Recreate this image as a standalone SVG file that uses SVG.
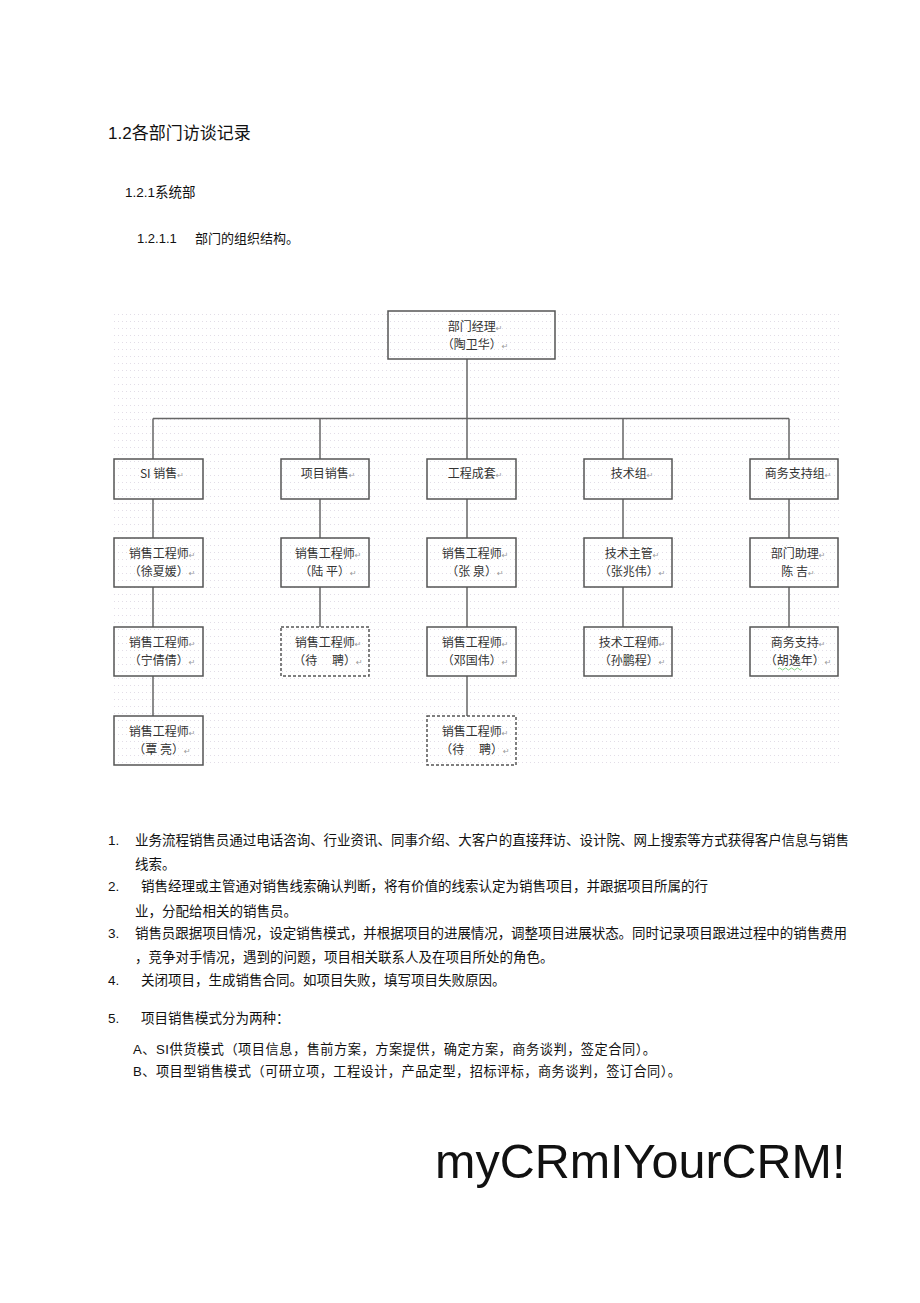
<svg xmlns="http://www.w3.org/2000/svg" width="920" height="1303" viewBox="0 0 920 1303">
<style>
.t{font-family:'Liberation Sans','Noto Sans CJK SC',sans-serif;fill:#111}
.p{font-size:13.5px}
.box{fill:none;stroke:#555;stroke-width:1.5}
.dash{stroke-dasharray:3 2}
.bt{font-family:'Noto Sans CJK SC','Liberation Sans',sans-serif;font-size:12px;fill:#333;text-anchor:middle}
.rt{font-family:'DejaVu Sans',sans-serif;font-size:8px;fill:#999}
.conn line{stroke:#666;stroke-width:1.5}
</style>
<defs>
<pattern id="dots" x="114" y="314" width="4" height="7" patternUnits="userSpaceOnUse">
<rect x="0" y="0" width="1" height="1" fill="#d6cfdc"/>
</pattern>
</defs>
<rect width="920" height="1303" fill="#fff"/>
<rect x="114" y="314" width="726" height="454" fill="url(#dots)" opacity="0.7"/>

<text class="t" x="108" y="139" font-size="17">1.2各部门访谈记录</text>
<text class="t" x="125" y="197" font-size="13.5">1.2.1系统部</text>
<text class="t" x="137" y="243" font-size="13"><tspan>1.2.1.1</tspan><tspan x="195">部门的组织结构。</tspan></text>

<g class="conn">
<line x1="467" y1="359" x2="467" y2="459"/>
<line x1="153" y1="418.5" x2="789" y2="418.5"/>
<line x1="153" y1="418.5" x2="153" y2="459"/>
<line x1="320" y1="418.5" x2="320" y2="459"/>
<line x1="623" y1="418.5" x2="623" y2="459"/>
<line x1="789" y1="418.5" x2="789" y2="459"/>
<line x1="153" y1="499" x2="153" y2="538"/>
<line x1="153" y1="587" x2="153" y2="627"/>
<line x1="153" y1="676" x2="153" y2="716"/>
<line x1="320" y1="499" x2="320" y2="538"/>
<line x1="320" y1="587" x2="320" y2="627"/>
<line x1="467" y1="499" x2="467" y2="538"/>
<line x1="467" y1="587" x2="467" y2="627"/>
<line x1="467" y1="676" x2="467" y2="716"/>
<line x1="623" y1="499" x2="623" y2="538"/>
<line x1="623" y1="587" x2="623" y2="627"/>
<line x1="789" y1="499" x2="789" y2="538"/>
<line x1="789" y1="587" x2="789" y2="627"/>
</g>

<g id="manager"><rect class="box" x="388" y="311" width="167" height="48"/>
<text class="bt" x="475" y="331">部门经理<tspan class="rt">↵</tspan></text>
<text class="bt" x="475" y="349">（陶卫华）<tspan class="rt">↵</tspan></text></g>

<g id="si-sales"><rect class="box" x="114" y="459" width="89" height="40"/>
<text class="bt" x="162" y="478">SI 销售<tspan class="rt">↵</tspan></text></g>
<g id="proj-sales"><rect class="box" x="281" y="459" width="88" height="40"/>
<text class="bt" x="328" y="478">项目销售<tspan class="rt">↵</tspan></text></g>
<g id="eng"><rect class="box" x="427" y="459" width="89" height="40"/>
<text class="bt" x="475" y="478">工程成套<tspan class="rt">↵</tspan></text></g>
<g id="tech"><rect class="box" x="584" y="459" width="88" height="40"/>
<text class="bt" x="632" y="478">技术组<tspan class="rt">↵</tspan></text></g>
<g id="biz"><rect class="box" x="750" y="459" width="88" height="40"/>
<text class="bt" x="798" y="478">商务支持组<tspan class="rt">↵</tspan></text></g>

<g id="c1-2"><rect class="box" x="114" y="538" width="89" height="49"/>
<text class="bt" x="162" y="558">销售工程师<tspan class="rt">↵</tspan></text>
<text class="bt" x="162" y="576">（徐夏媛）<tspan class="rt">↵</tspan></text></g>
<g id="c1-3"><rect class="box" x="114" y="627" width="89" height="49"/>
<text class="bt" x="162" y="647">销售工程师<tspan class="rt">↵</tspan></text>
<text class="bt" x="162" y="665">（宁倩倩）<tspan class="rt">↵</tspan></text></g>
<g id="c1-4"><rect class="box" x="114" y="716" width="89" height="49"/>
<text class="bt" x="162" y="736">销售工程师<tspan class="rt">↵</tspan></text>
<text class="bt" x="162" y="754" xml:space="preserve">（覃 亮）<tspan class="rt">↵</tspan></text></g>

<g id="c2-2"><rect class="box" x="281" y="538" width="88" height="49"/>
<text class="bt" x="328" y="558">销售工程师<tspan class="rt">↵</tspan></text>
<text class="bt" x="328" y="576" xml:space="preserve">（陆 平）<tspan class="rt">↵</tspan></text></g>
<g id="c2-3"><rect class="box dash" x="281" y="627" width="88" height="49"/>
<text class="bt" x="328" y="647">销售工程师<tspan class="rt">↵</tspan></text>
<text class="bt" x="328" y="665" xml:space="preserve">（待　 聘）<tspan class="rt">↵</tspan></text></g>

<g id="c3-2"><rect class="box" x="427" y="538" width="89" height="49"/>
<text class="bt" x="475" y="558">销售工程师<tspan class="rt">↵</tspan></text>
<text class="bt" x="475" y="576" xml:space="preserve">（张 泉）<tspan class="rt">↵</tspan></text></g>
<g id="c3-3"><rect class="box" x="427" y="627" width="89" height="49"/>
<text class="bt" x="475" y="647">销售工程师<tspan class="rt">↵</tspan></text>
<text class="bt" x="475" y="665">（邓国伟）<tspan class="rt">↵</tspan></text></g>
<g id="c3-4"><rect class="box dash" x="427" y="716" width="89" height="49"/>
<text class="bt" x="475" y="736">销售工程师<tspan class="rt">↵</tspan></text>
<text class="bt" x="475" y="754" xml:space="preserve">（待　 聘）<tspan class="rt">↵</tspan></text></g>

<g id="c4-2"><rect class="box" x="584" y="538" width="88" height="49"/>
<text class="bt" x="632" y="558">技术主管<tspan class="rt">↵</tspan></text>
<text class="bt" x="632" y="576">（张兆伟）<tspan class="rt">↵</tspan></text></g>
<g id="c4-3"><rect class="box" x="584" y="627" width="88" height="49"/>
<text class="bt" x="632" y="647">技术工程师<tspan class="rt">↵</tspan></text>
<text class="bt" x="632" y="665">（孙鹏程）<tspan class="rt">↵</tspan></text></g>

<g id="c5-2"><rect class="box" x="750" y="538" width="88" height="49"/>
<text class="bt" x="798" y="558">部门助理<tspan class="rt">↵</tspan></text>
<text class="bt" x="798" y="576" xml:space="preserve">陈 吉<tspan class="rt">↵</tspan></text></g>
<g id="c5-3"><rect class="box" x="750" y="627" width="88" height="49"/>
<text class="bt" x="798" y="647">商务支持<tspan class="rt">↵</tspan></text>
<text class="bt" x="798" y="665">（胡逸年）<tspan class="rt">↵</tspan></text>
<path d="M778 669 q1.5 -2 3 0 t3 0 t3 0 t3 0 t3 0 t3 0 t3 0 t3 0" fill="none" stroke="#6c6" stroke-width="0.8"/></g>

<g class="t p">
<text x="108" y="845">1.</text>
<text x="135" y="845" textLength="714" lengthAdjust="spacing">业务流程销售员通过电话咨询、行业资讯、同事介绍、大客户的直接拜访、设计院、网上搜索等方式获得客户信息与销售</text>
<text x="135" y="869">线索。</text>
<text x="108" y="891">2.</text>
<text x="141" y="891">销售经理或主管通对销售线索确认判断，将有价值的线索认定为销售项目，并跟据项目所属的行</text>
<text x="135" y="916">业，分配给相关的销售员。</text>
<text x="108" y="938">3.</text>
<text x="135" y="938" textLength="712" lengthAdjust="spacing">销售员跟据项目情况，设定销售模式，并根据项目的进展情况，调整项目进展状态。同时记录项目跟进过程中的销售费用</text>
<text x="135" y="962">，竞争对手情况，遇到的问题，项目相关联系人及在项目所处的角色。</text>
<text x="108" y="985">4.</text>
<text x="141" y="985">关闭项目，生成销售合同。如项目失败，填写项目失败原因。</text>
<text x="108" y="1023">5.</text>
<text x="141" y="1023">项目销售模式分为两种：</text>
<text x="133" y="1054" font-size="13.2" textLength="523" lengthAdjust="spacing">A、SI供货模式（项目信息，售前方案，方案提供，确定方案，商务谈判，签定合同）。</text>
<text x="133" y="1076" font-size="13.2" textLength="548" lengthAdjust="spacing">B、项目型销售模式（可研立项，工程设计，产品定型，招标评标，商务谈判，签订合同）。</text>
</g>

<text class="t" x="435" y="1178" font-size="48.5" fill="#000">myCRmIYourCRM!</text>
</svg>
